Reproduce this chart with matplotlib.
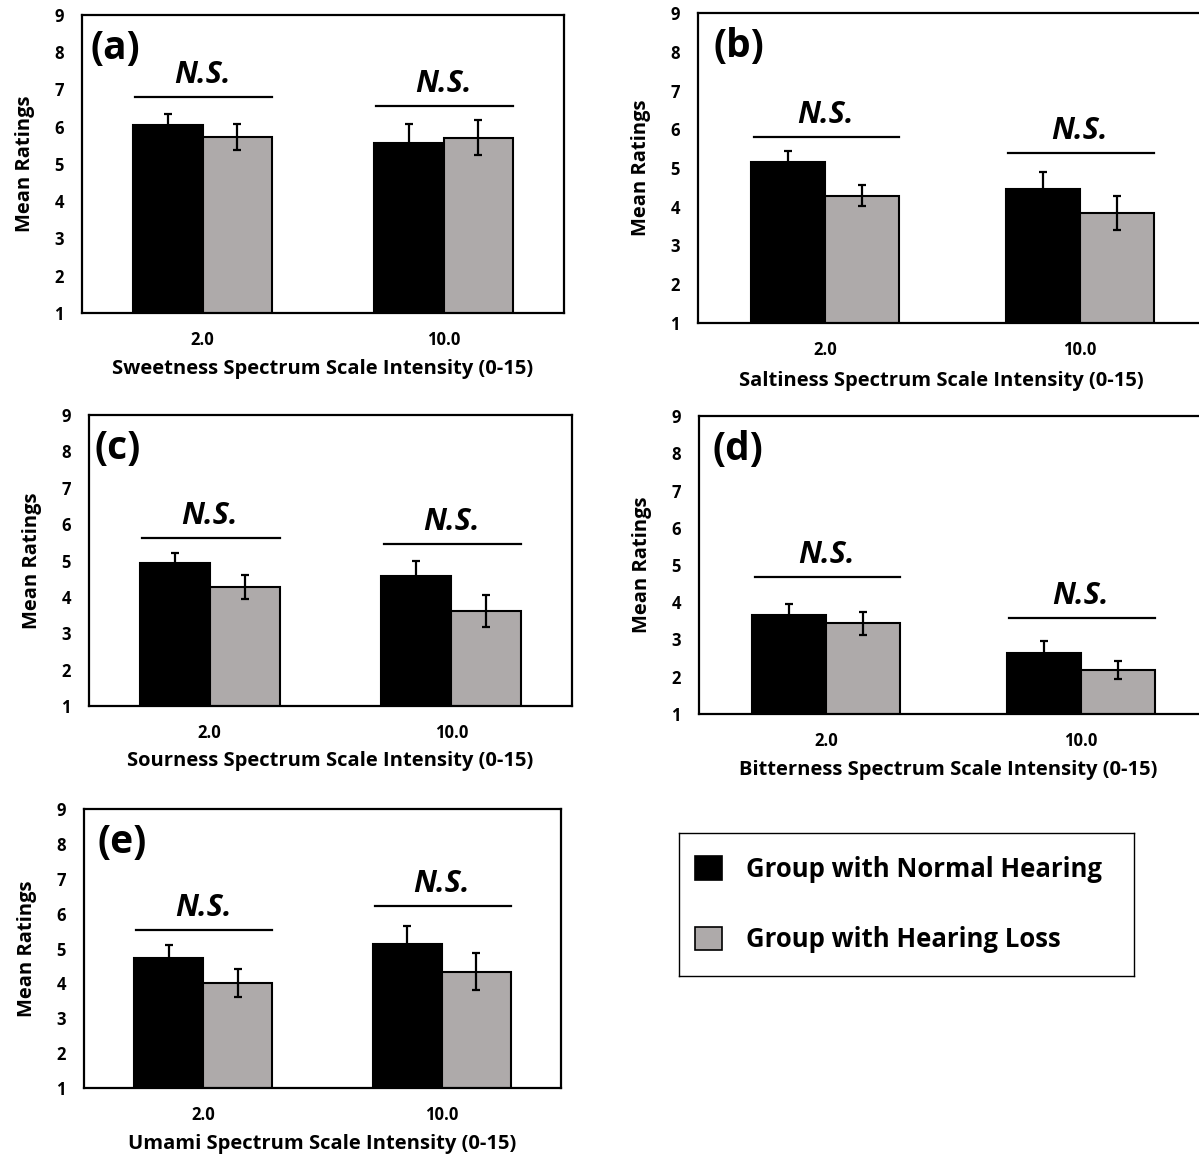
import numpy as np
import matplotlib
matplotlib.use('Agg')
import matplotlib.pyplot as plt
from matplotlib.patches import Patch

plt.rcParams['font.family'] = ['Open Sans', 'DejaVu Sans']
plt.rcParams['font.weight'] = 'bold'

#intensity levels on the x axis
levels = ['2.0', '10.0']

#one panel per taste
panel_tags = ['(a)', '(b)', '(c)', '(d)', '(e)']
tastes = ['Sweetness', 'Saltiness', 'Sourness', 'Bitterness', 'Umami']

#mean ratings and error bars, normal hearing group
normal_mean = [[6.04, 5.56], [5.15, 4.46], [4.92, 4.57], [3.65, 2.65], [4.73, 5.14]]
normal_err = [[0.29, 0.51], [0.28, 0.43], [0.28, 0.41], [0.30, 0.32], [0.38, 0.50]]

#mean ratings and error bars, hearing loss group
loss_mean = [[5.73, 5.71], [4.29, 3.83], [4.28, 3.61], [3.43, 2.18], [4.01, 4.34]]
loss_err = [[0.35, 0.47], [0.26, 0.44], [0.33, 0.45], [0.30, 0.25], [0.40, 0.52]]

#height of the N.S. bracket over each pair
ns_level = [[6.79, 6.57], [5.79, 5.39], [5.63, 5.45], [4.68, 3.59], [5.54, 6.21]]

black = '#000000'
grey = '#aeaaaa'

W, H = 1199, 1159
fig = plt.figure(figsize=(W / 100, H / 100), dpi=100)

#panel boxes in pixels: left, right, top, bottom
boxes = [(82, 564, 15, 313), (698, 1207, 13, 323), (89, 572, 415, 706),
         (699, 1208, 416, 714), (84, 561, 809, 1088)]
tag_dx = [6, 11, 4, 10, 10]
xlabel_x = [0.5, 0.478, 0.5, 0.49, 0.5]

x = np.arange(len(levels))
w = 0.29

for i, (l, r, t, b) in enumerate(boxes):
    ax = fig.add_axes([l / W, 1 - b / H, (r - l) / W, (b - t) / H])

    ax.bar(x - w / 2, normal_mean[i], w, color=black, edgecolor='black', linewidth=1.5, zorder=2)
    ax.bar(x + w / 2, loss_mean[i], w, color=grey, edgecolor='black', linewidth=1.5, zorder=2)
    ax.errorbar(x - w / 2, normal_mean[i], yerr=normal_err[i], fmt='none', ecolor='black',
                elinewidth=1.6, capsize=3, capthick=1.6, zorder=3)
    ax.errorbar(x + w / 2, loss_mean[i], yerr=loss_err[i], fmt='none', ecolor='black',
                elinewidth=1.6, capsize=3, capthick=1.6, zorder=3)

    #N.S. brackets
    for j in range(len(levels)):
        ax.plot([x[j] - 0.28, x[j] + 0.29], [ns_level[i][j]] * 2, color='black', lw=1.6)
        ax.annotate('N.S.', (x[j], ns_level[i][j]), xytext=(0, 10), textcoords='offset points',
                    ha='center', va='baseline', fontsize=22, fontweight='bold', fontstyle='italic')

    ax.annotate(panel_tags[i], (0, 1), xycoords='axes fraction', xytext=(tag_dx[i], -10),
                textcoords='offset points', ha='left', va='top', fontsize=28, fontweight='bold')

    ax.set_xlim(-0.5, 1.5)
    ax.set_ylim(1, 9)
    ax.set_yticks(range(1, 10))
    ax.set_xticks(x)
    ax.set_xticklabels(levels)
    ax.tick_params(length=0, labelsize=12)
    ax.tick_params(axis='y', pad=13)
    ax.tick_params(axis='x', pad=13)
    for s in ax.spines.values():
        s.set_linewidth(1.6)

    ax.set_ylabel('Mean Ratings', fontsize=14.5, fontweight='bold', labelpad=14)
    ax.set_xlabel(tastes[i] + ' Spectrum Scale Intensity (0-15)', fontsize=14.5, fontweight='bold')
    ax.xaxis.set_label_coords(xlabel_x[i], -0.155 if i != 4 else -0.165)

#legend box
lax = fig.add_axes([679 / W, 1 - 976 / H, 455 / W, 143 / H])
lax.set_xticks([])
lax.set_yticks([])
for s in lax.spines.values():
    s.set_linewidth(1.0)
handles = [Patch(facecolor=black, edgecolor='black', linewidth=1.2),
           Patch(facecolor=grey, edgecolor='black', linewidth=1.2)]
lax.legend(handles, ['Group with Normal Hearing', 'Group with Hearing Loss'],
           loc='center left', bbox_to_anchor=(0.035, 0.5), borderaxespad=0, borderpad=0,
           frameon=False, prop={'size': 18.5, 'weight': 'bold'},
           handlelength=1.05, handleheight=1.05, handletextpad=0.95, labelspacing=1.7)

fig.savefig('out.png', dpi=100)
